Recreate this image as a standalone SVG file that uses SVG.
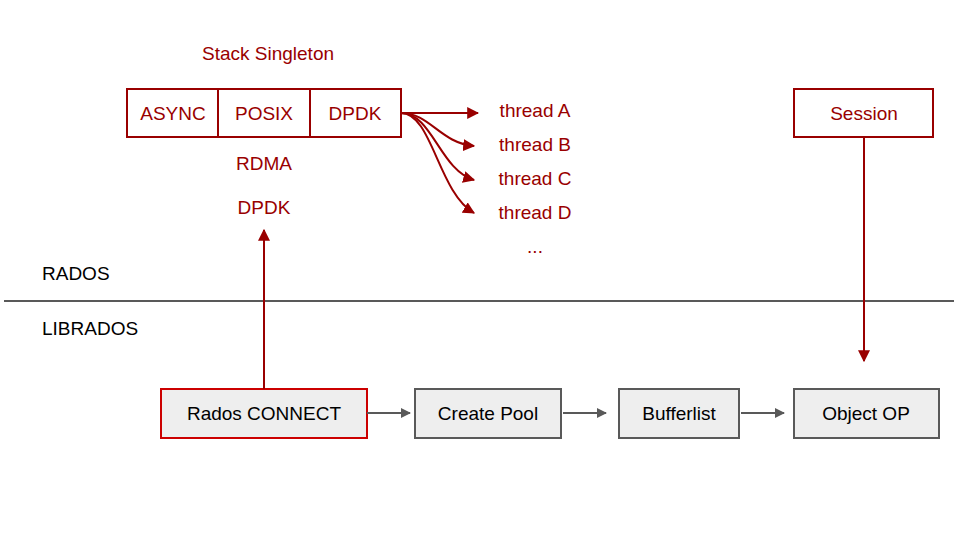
<svg xmlns="http://www.w3.org/2000/svg" width="960" height="540" viewBox="0 0 960 540">
<defs>
<marker id="ar" viewBox="0 0 10 10" refX="9" refY="5" markerWidth="6" markerHeight="6" markerUnits="strokeWidth" orient="auto"><path d="M0,0 L10,5 L0,10 z" fill="#990000"/></marker>
<marker id="ag" viewBox="0 0 10 10" refX="9" refY="5" markerWidth="5" markerHeight="5" markerUnits="strokeWidth" orient="auto"><path d="M0,0 L10,5 L0,10 z" fill="#595959"/></marker>
<style>
text{font-family:"Liberation Sans",Arial,sans-serif;font-size:19px;text-anchor:middle;dominant-baseline:central}
.r{fill:#990000}
.k{fill:#000}
.rb{fill:#fff;stroke:#990000;stroke-width:2}
.gb{fill:#eeeeee;stroke:#595959;stroke-width:2}
.rc{fill:#eeeeee;stroke:#cc0000;stroke-width:2}
.rl{fill:none;stroke:#990000;stroke-width:2}
.gl{fill:none;stroke:#595959;stroke-width:2}
.lbl{text-anchor:start}
</style>
</defs>
<rect width="960" height="540" fill="#fff"/>
<g id="title"><text class="r" x="268" y="53">Stack Singleton</text></g>
<g id="stack">
<rect class="rb" x="127" y="89" width="91" height="48"/>
<rect class="rb" x="218" y="89" width="92" height="48"/>
<rect class="rb" x="310" y="89" width="91" height="48"/>
<text class="r" x="173" y="113">ASYNC</text>
<text class="r" x="264" y="113">POSIX</text>
<text class="r" x="355" y="113">DPDK</text>
</g>
<g id="stacklabels">
<text class="r" x="264" y="163">RDMA</text>
<text class="r" x="264" y="207">DPDK</text>
</g>
<g id="threads">
<text class="r" x="535" y="110">thread A</text>
<text class="r" x="535" y="144">thread B</text>
<text class="r" x="535" y="178">thread C</text>
<text class="r" x="535" y="212">thread D</text>
<text class="r" x="535" y="246">...</text>
</g>
<g id="session"><rect class="rb" x="794" y="89" width="139" height="48"/><text class="r" x="864" y="113">Session</text></g>
<g id="layers">
<line x1="4" y1="301" x2="954" y2="301" stroke="#595959" stroke-width="2"/>
<text class="k lbl" x="42" y="273">RADOS</text>
<text class="k lbl" x="42" y="328">LIBRADOS</text>
</g>
<g id="n-connect"><rect class="rc" x="161" y="389" width="206" height="49"/><text class="k" x="264" y="413">Rados CONNECT</text></g>
<g id="n-pool"><rect class="gb" x="415" y="389" width="146" height="49"/><text class="k" x="488" y="413">Create Pool</text></g>
<g id="n-buf"><rect class="gb" x="619" y="389" width="120" height="49"/><text class="k" x="679" y="413">Bufferlist</text></g>
<g id="n-obj"><rect class="gb" x="794" y="389" width="145" height="49"/><text class="k" x="866" y="413">Object OP</text></g>
<g id="connectors">
<path class="rl" d="M401,113 L478,113" marker-end="url(#ar)"/>
<path class="rl" d="M401,113 C430,113 440,143 474,146" marker-end="url(#ar)"/>
<path class="rl" d="M401,113 C432,113 440,170 474,180" marker-end="url(#ar)"/>
<path class="rl" d="M401,113 C432,113 438,192 474,213" marker-end="url(#ar)"/>
<path class="rl" d="M264,389 L264,230" marker-end="url(#ar)"/>
<path class="rl" d="M864,137 L864,361" marker-end="url(#ar)"/>
<path class="gl" d="M367,413 L410,413" marker-end="url(#ag)"/>
<path class="gl" d="M563,413 L606,413" marker-end="url(#ag)"/>
<path class="gl" d="M741,413 L784,413" marker-end="url(#ag)"/>
</g>
</svg>
